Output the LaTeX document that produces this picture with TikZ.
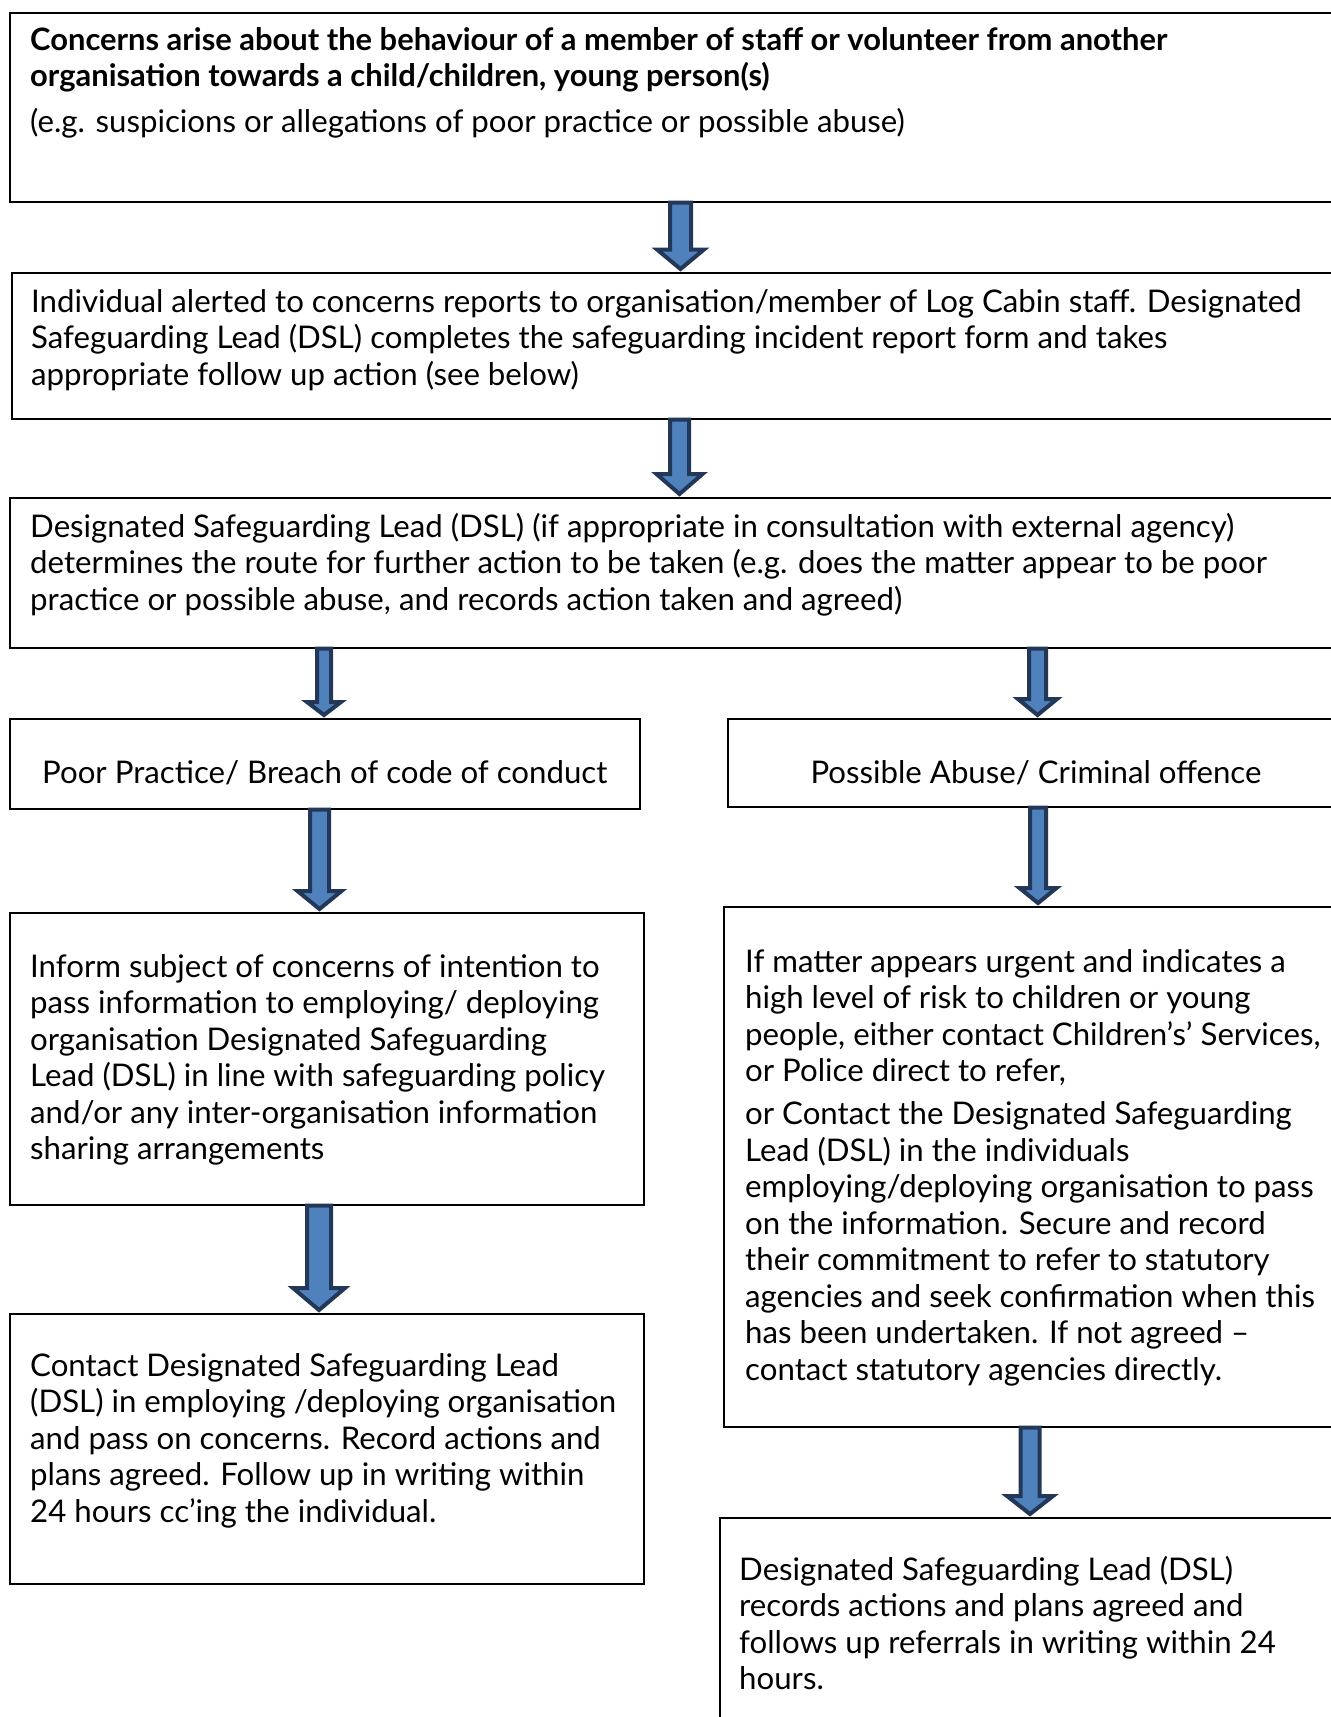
\documentclass[tikz,border=0pt]{standalone}
\usepackage{fontspec}
\setmainfont{Lato}
\usetikzlibrary{calc}
\usetikzlibrary{positioning}

\definecolor{arrowfill}{RGB}{79,129,189}
\definecolor{arrowline}{RGB}{35,56,88}

\newcommand{\flowtext}[1]{\parbox[t]{1300pt}{\raggedright #1}}
% block arrow: from, to, x, shaft half, head half, head length
\newcommand{\flowarrow}[6]{%
  \coordinate (tail) at (#1.south -| #3,0);
  \coordinate (tip) at ($(#2.north -| #3,0)+(0,-3)$);
  \draw[blockarrow] ($(tail)+(-#4,0)$) -- ($(tip)+(-#4,-#6)$) -- ($(tip)+(-#5,-#6)$)
    -- (tip) -- ($(tip)+(#5,-#6)$) -- ($(tip)+(#4,-#6)$) -- ($(tail)+(#4,0)$) -- cycle;
}

\begin{document}
\begin{tikzpicture}[
    x=1pt, y=-1pt,
    font=\fontsize{31.2}{36.5}\selectfont
]
\tikzset{
    flowbox/.style = {draw=black, line width=1.5pt, anchor=north west, inner sep=0pt},
    txt/.style = {anchor=base west, inner sep=0pt},
    blockarrow/.style = {fill=arrowfill, draw=arrowline, line width=4pt, line join=miter}
}
\fill[white] (0,0) rectangle (1331,1717);
\useasboundingbox (0,0) rectangle (1331,1717);

% boxes
\node[flowbox, minimum width=1336pt, minimum height=189pt] at (9,12) (concernbox) {};
\node[flowbox, minimum width=1334pt, minimum height=146pt] at (11,272) (reportbox) {};
\node[flowbox, minimum width=1336pt, minimum height=150pt] at (9,497) (routebox) {};
\node[flowbox, minimum width=630pt, minimum height=90pt] at (9,718) (poorbox) {};
\node[flowbox, minimum width=618pt, minimum height=88pt] at (727,718) (abusebox) {};
\node[flowbox, minimum width=634pt, minimum height=292pt] at (9,912) (informbox) {};
\node[flowbox, minimum width=622pt, minimum height=520pt] at (723,906) (urgentbox) {};
\node[flowbox, minimum width=634pt, minimum height=270pt] at (9,1313) (contactbox) {};
\node[flowbox, minimum width=626pt, minimum height=210pt] at (719,1517) (recordbox) {};

% texts
\node[txt] at (30,50) (concern) {\flowtext{%
  {\fontsize{30.9}{36.5}\selectfont\bfseries
  Concerns arise about the behaviour of a member of staff or volunteer from another\\[-0.5pt]
  organisation towards a child/children, young person(s)}\\[9.5pt]
  (e.g. suspicions or allegations of poor practice or possible abuse)}};
\node[txt] at (31,312) (report) {\flowtext{%
  Individual alerted to concerns reports to organisation/member of Log Cabin staff. Designated\\
  Safeguarding Lead (DSL) completes the safeguarding incident report form and takes\\
  appropriate follow up action (see below)}};
\node[txt] at (30,537) (route) {\flowtext{%
  Designated Safeguarding Lead (DSL) (if appropriate in consultation with external agency)\\
  determines the route for further action to be taken (e.g. does the matter appear to be poor\\
  practice or possible abuse, and records action taken and agreed)}};
\node[txt, anchor=base] at (poorbox.center |- 0,783) (poor) {Poor Practice/ Breach of code of conduct};
\node[txt, anchor=base] at (1036,783) (abuse) {Possible Abuse/ Criminal offence};
\node[txt] at (30,977) (inform) {\flowtext{%
  Inform subject of concerns of intention to\\
  pass information to employing/ deploying\\
  organisation Designated Safeguarding\\
  Lead (DSL) in line with safeguarding policy\\
  and/or any inter-organisation information\\
  sharing arrangements}};
\node[txt] at (745,972) (urgent) {\flowtext{%
  If matter appears urgent and indicates a\\
  high level of risk to children or young\\
  people, either contact Children’s’ Services,\\
  or Police direct to refer,\\[6.5pt]
  or Contact the Designated Safeguarding\\
  Lead (DSL) in the individuals\\
  employing/deploying organisation to pass\\
  on the information. Secure and record\\
  their commitment to refer to statutory\\
  agencies and seek confirmation when this\\
  has been undertaken. If not agreed –\\
  contact statutory agencies directly.}};
\node[txt] at (30,1376) (contact) {\flowtext{%
  Contact Designated Safeguarding Lead\\
  (DSL) in employing /deploying organisation\\
  and pass on concerns. Record actions and\\
  plans agreed. Follow up in writing within\\
  24 hours cc’ing the individual.}};
\node[txt] at (739,1580) (record) {\flowtext{%
  Designated Safeguarding Lead (DSL)\\
  records actions and plans agreed and\\
  follows up referrals in writing within 24\\
  hours.}};

% arrows
\flowarrow{concernbox}{reportbox}{680.5}{10.5}{23.5}{19.5}
\flowarrow{reportbox}{routebox}{679.5}{9.5}{23}{20}
\flowarrow{routebox}{poorbox}{324}{7}{17}{13}
\flowarrow{routebox}{abusebox}{1037.5}{8.5}{19.5}{16}
\flowarrow{poorbox}{informbox}{319.5}{9.5}{22}{18}
\flowarrow{abusebox}{urgentbox}{1038}{8}{18.5}{15}
\flowarrow{informbox}{contactbox}{319}{12}{26}{22}
\flowarrow{urgentbox}{recordbox}{1030}{9.5}{23}{18}
\end{tikzpicture}
\end{document}
